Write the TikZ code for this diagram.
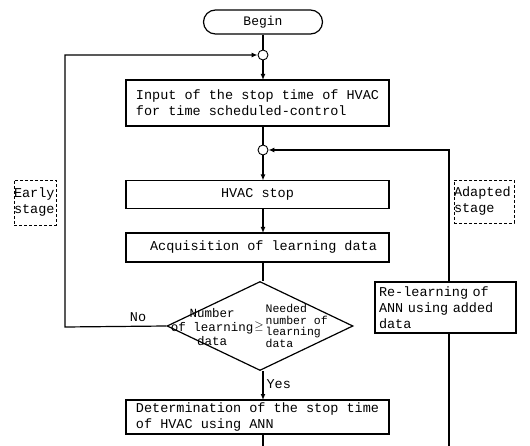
\documentclass[tikz,border=0pt]{standalone}
\usepackage{fontspec}
\setmonofont{Liberation Mono}
\usetikzlibrary{shapes.geometric,arrows.meta}
\begin{document}
\begin{tikzpicture}[x=1pt,y=-1pt,
  line width=1.2pt,
  font=\ttfamily\fontsize{13.5}{16}\selectfont,
  proc/.style={draw,rectangle,minimum width=263pt,inner sep=0pt,outer sep=0pt},
  junc/.style={draw,circle,minimum size=10pt,inner sep=0pt,line width=0.9pt},
  stagebox/.style={draw,dashed,line width=0.9pt,rectangle,inner sep=0pt,text width=#1,align=left},
  arr/.style={-{Latex[length=6pt,width=5pt]}},
  lbl/.style={inner sep=0pt}]
\useasboundingbox (0,0) rectangle (530,446);
\fill[white] (0,0) rectangle (530,446);

\node[draw,rounded corners=12pt,minimum width=119pt,minimum height=24pt,inner sep=0pt,
  font=\ttfamily\fontsize{13}{15}\selectfont] (begin) at (263,22) {Begin};
\node[junc] (j1) at (263,55) {};
\node[proc,minimum height=46pt,align=left] (box1) at (257.5,103)
  {Input of the stop time of HVAC\\for time scheduled-control};
\node[junc] (j2) at (263,150) {};
\node[proc,minimum height=28pt] (hvac) at (257.5,194.5) {HVAC stop};
\node[proc,minimum height=29pt] (acq) at (257.5,247.5) {\hspace{12pt}Acquisition of learning data};
\node[draw,diamond,aspect=2.1,minimum width=186pt,minimum height=89pt,inner sep=0pt] (dia) at (260,326) {};
\node[lbl,align=center,font=\ttfamily\fontsize{12.5}{14}\selectfont,anchor=east] (dl) at (254,327)
  {Number\\of learning\\data};
\node[lbl,font=\fontsize{12}{14}\selectfont] (ge) at (259,327) {$\geq$};
\node[lbl,align=left,font=\ttfamily\fontsize{11.5}{11.5}\selectfont,anchor=west] (dr) at (265,326)
  {Needed\\number of\\learning\\data};
\node[proc,minimum height=34pt,align=left] (det) at (257.5,417)
  {Determination of the stop time\\of HVAC using ANN};
\node[draw,rectangle,minimum width=141pt,minimum height=51pt,inner sep=0pt,outer sep=0pt,
  align=left,text width=133pt] (rel) at (445.5,307.5)
  {Re-learning of\\ANN using added\\data};
\node[stagebox=42pt,minimum height=45pt,dash pattern=on 3pt off 2pt] (early) at (35,202.5) {Early\\stage};
\node[stagebox=60pt,minimum height=43pt,dash pattern=on 3pt off 2pt] (adapt) at (484,201.5) {Adapted\\stage};

\coordinate (lb) at (65,327);
\coordinate (lt) at (65,55);
\coordinate (rt) at (449,150);
\coordinate (rb) at (449,446);
\coordinate (mb) at (263,446);

\draw (begin.south) -- (j1.north);
\draw[arr] (j1.south) -- (j1.south |- box1.north);
\draw (j2 |- box1.south) -- (j2.north);
\draw[arr] (j2.south) -- (j2.south |- hvac.north);
\draw[arr] (j2.south |- hvac.south) -- (j2.south |- acq.north);
\draw (j2.south |- acq.south) -- (j2.south |- dia.north);
\draw[arr] (j2.south |- dia.south) -- node[lbl,right=3pt,pos=0.45]{Yes} (j2.south |- det.north);
\draw[arr] (dia.west) -- node[lbl,above=4pt,pos=0.28]{No} (lb) -- (lt) -- (j1.west);
\draw[arr] (rt |- rel.north) -- (rt) -- (j2.east);
\draw (j2 |- det.south) -- (mb);
\draw (rt |- rel.south) -- (rb);
\end{tikzpicture}
\end{document}
